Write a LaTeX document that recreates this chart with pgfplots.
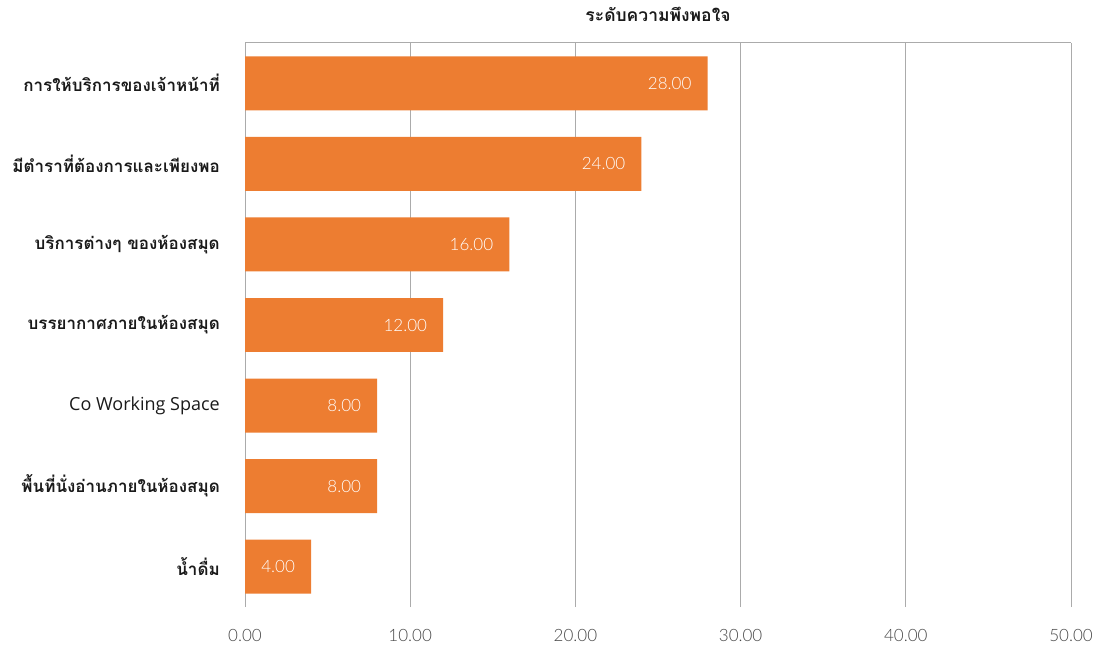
\documentclass[border=0pt]{standalone}
\usepackage{fontspec}
\usepackage{pgfplots}
\pgfplotsset{compat=1.18}
\setmainfont{Open Sans}
\newfontfamily\thaifont[Script=Thai]{Loma}
\newfontfamily\numfont{Lato Light}
\definecolor{barorange}{HTML}{ED7D31}
\definecolor{gridgray}{HTML}{ABABAB}
\definecolor{ticktext}{HTML}{474747}
\definecolor{labtext}{HTML}{1A1A1A}
\newcommand{\thl}[1]{{\thaifont\bfseries\fontsize{17}{17}\selectfont #1}}
\begin{document}
\begin{tikzpicture}
\path[use as bounding box] (0,0) rectangle (1102pt,651pt);
\begin{axis}[
  at={(245pt,44pt)}, anchor=south west,
  width=826pt, height=564pt, scale only axis,
  xbar, bar width=0.67,
  xmin=0, xmax=50, ymin=-0.5, ymax=6.5,
  xtick={0,10,20,30,40,50},
  ytick={0,1,2,3,4,5,6},
  yticklabels={\thl{น้ำดื่ม},\thl{พื้นที่นั่งอ่านภายในห้องสมุด},{Co Working Space},\thl{บรรยากาศภายในห้องสมุด},\thl{บริการต่างๆ ของห้องสมุด},\thl{มีตำราที่ต้องการและเพียงพอ},\thl{การให้บริการของเจ้าหน้าที่}},
  xmajorgrids, grid style={gridgray, line width=1pt},
  axis line style={draw=none},
  major tick length=0pt,
  scaled x ticks=false,
  xticklabel style={font=\numfont\fontsize{17}{17}\selectfont, text=ticktext, anchor=north, inner sep=0pt, yshift=-22pt,
    /pgf/number format/.cd, fixed, fixed zerofill, precision=2, assume math mode=true},
  yticklabel style={font=\fontsize{18}{18}\selectfont, text=labtext, anchor=east, inner sep=0pt, xshift=-25pt},
  title={\thaifont\bfseries ระดับความพึงพอใจ},
  title style={font=\fontsize{17.5}{17.5}\selectfont, text=labtext, at={(0.5,1)}, anchor=base, yshift=15pt, inner sep=0pt},
  nodes near coords={\pgfmathprintnumber[fixed,fixed zerofill,precision=2,assume math mode=true]{\pgfplotspointmeta}},
  every node near coord/.append style={font=\numfont\fontsize{17}{17}\selectfont, text=white, anchor=east, inner sep=0pt, xshift=-16pt},
]
\addplot[fill=barorange, draw=none] coordinates {(4,0) (8,1) (8,2) (12,3) (16,4) (24,5) (28,6)};
\draw[gridgray, line width=1pt] (rel axis cs:0,1) -- (rel axis cs:1,1);
\end{axis}
\end{tikzpicture}
\end{document}
